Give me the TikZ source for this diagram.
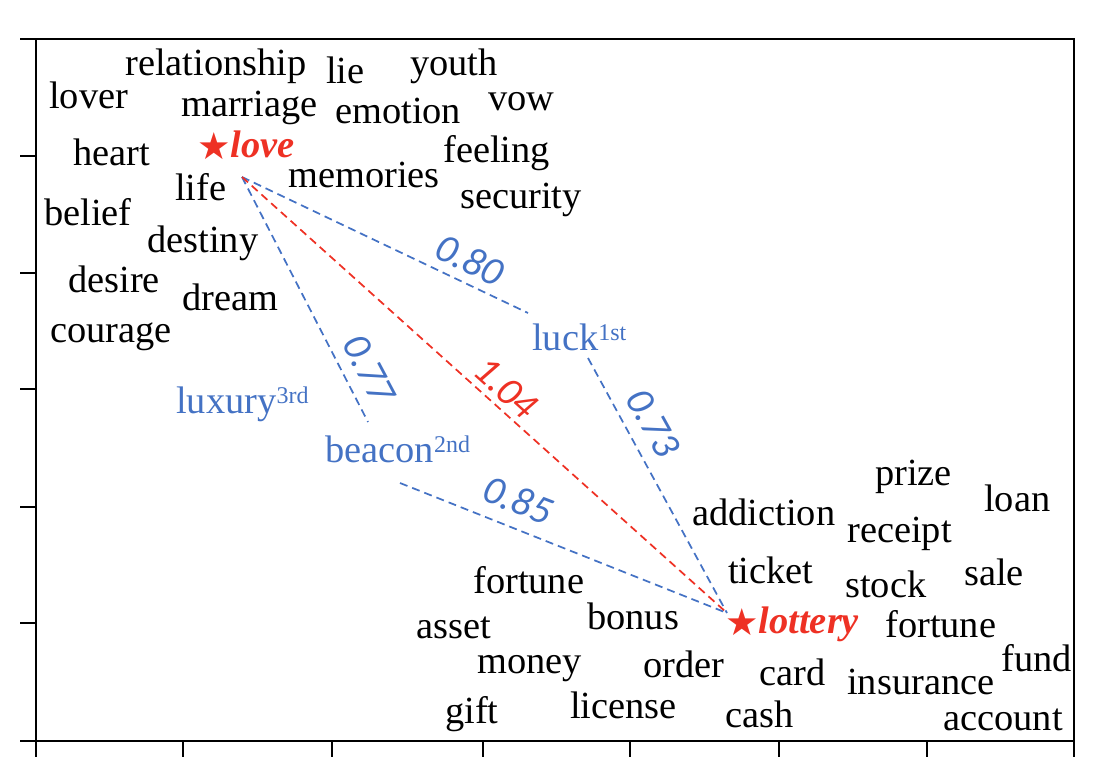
\documentclass[tikz,border=0pt]{standalone}
\usepackage{fontspec}
\setmainfont{Liberation Serif}
\newfontfamily\numfont{Carlito}
\newfontfamily\starfont{DejaVu Sans}
\definecolor{myblue}{HTML}{4472C4}
\definecolor{myred}{HTML}{EE3124}
\newcommand\supx[1]{\raisebox{7.5pt}{\fontsize{18}{18}\selectfont #1}}
\newcommand\starx{\raisebox{-1.5pt}{\starfont\fontsize{28}{28}\selectfont\mdseries\upshape ★}}
\begin{document}
\begin{tikzpicture}[x=0.75pt,y=-0.75pt,
  word/.style={anchor=base west, inner sep=0pt, font=\fontsize{28.8}{30}\selectfont},
  cand/.style={word, text=myblue},
  key/.style={anchor=base west, inner sep=0pt, text=myred, font=\fontsize{28.8}{30}\selectfont\bfseries\itshape},
  dist/.style={inner sep=0pt, font=\fontsize{30}{30}\selectfont\numfont\itshape, text=myblue},
  link/.style={draw=myblue, line width=1.3pt, dash pattern=on 6pt off 3.8pt},
  axis/.style={line width=2pt}]
\useasboundingbox (0,0) rectangle (1110,782);

% axes
\draw[axis] (36,39) rectangle (1074,741);
\foreach \yy in {39,156,273,389,507,623,741} \draw[axis] (20,\yy) -- (36,\yy);
\foreach \xx in {36,183,332,483,630,779,927,1074} \draw[axis] (\xx,741) -- (\xx,757);

% love cluster
\node[word] (relationship) at (125,75) {relationship};
\node[word] (lie) at (326,83) {lie};
\node[word] (youth) at (410,75) {youth};
\node[word] (lover) at (49,108) {lover};
\node[word] (marriage) at (181,116) {marriage};
\node[word] (emotion) at (335,123) {emotion};
\node[word] (vow) at (488,110) {vow};
\node[key] (love) at (197,157) {\starx love};
\node[word] (heart) at (73,165) {heart};
\node[word] (feeling) at (443,162) {feeling};
\node[word] (life) at (175,200) {life};
\node[word] (memories) at (288,187) {memories};
\node[word] (security) at (460,208) {security};
\node[word] (belief) at (44,225) {belief};
\node[word] (destiny) at (147,252) {destiny};
\node[word] (desire) at (68,292) {desire};
\node[word] (dream) at (182,310) {dream};
\node[word] (courage) at (50,342) {courage};

% candidates
\node[cand] (luck) at (532,350) {luck\supx{1st}};
\node[cand] (luxury) at (176,413) {luxury\supx{3rd}};
\node[cand] (beacon) at (325,462) {beacon\supx{2nd}};

% lottery cluster
\node[word] (prize) at (875,485) {prize};
\node[word] (loan) at (984,511) {loan};
\node[word] (addiction) at (692,525) {addiction};
\node[word] (receipt) at (847,542) {receipt};
\node[word] (ticket) at (728,583) {ticket};
\node[word] (stock) at (845,597) {stock};
\node[word] (sale) at (964,585) {sale};
\node[key] (lottery) at (725,633) {\starx lottery};
\node[word] (fortuneR) at (885,637) {fortune};
\node[word] (fund) at (1001,671) {fund};
\node[word] (card) at (759,685) {card};
\node[word] (insurance) at (847,694) {insurance};
\node[word] (cash) at (725,727) {cash};
\node[word] (account) at (943,730) {account};
\node[word] (fortuneL) at (473,593) {fortune};
\node[word] (bonus) at (587,629) {bonus};
\node[word] (asset) at (416,638) {asset};
\node[word] (money) at (477,673) {money};
\node[word] (order) at (643,677) {order};
\node[word] (gift) at (445,723) {gift};
\node[word] (license) at (570,718) {license};

% connectors
\coordinate (loveP) at (242,177);
\coordinate (lotP) at (727,613);
\coordinate (luckA) at (528,313);
\coordinate (luckB) at (588,358);
\coordinate (beacA) at (368,422);
\coordinate (beacB) at (400,483);
\draw[link] (loveP) -- (luckA);
\draw[link] (loveP) -- (beacA);
\draw[link, draw=myred] (loveP) -- (lotP);
\draw[link] (luckB) -- (lotP);
\draw[link] (beacB) -- (lotP);

% distances
\node[dist, rotate=-26] (d080) at (470,260) {0.80};
\node[dist, rotate=-62] (d077) at (369,369) {0.77};
\node[dist, text=myred, rotate=-42] (d104) at (506,388) {1.04};
\node[dist, rotate=-61] (d073) at (653,423) {0.73};
\node[dist, rotate=-21] (d085) at (518,500) {0.85};
\end{tikzpicture}
\end{document}
